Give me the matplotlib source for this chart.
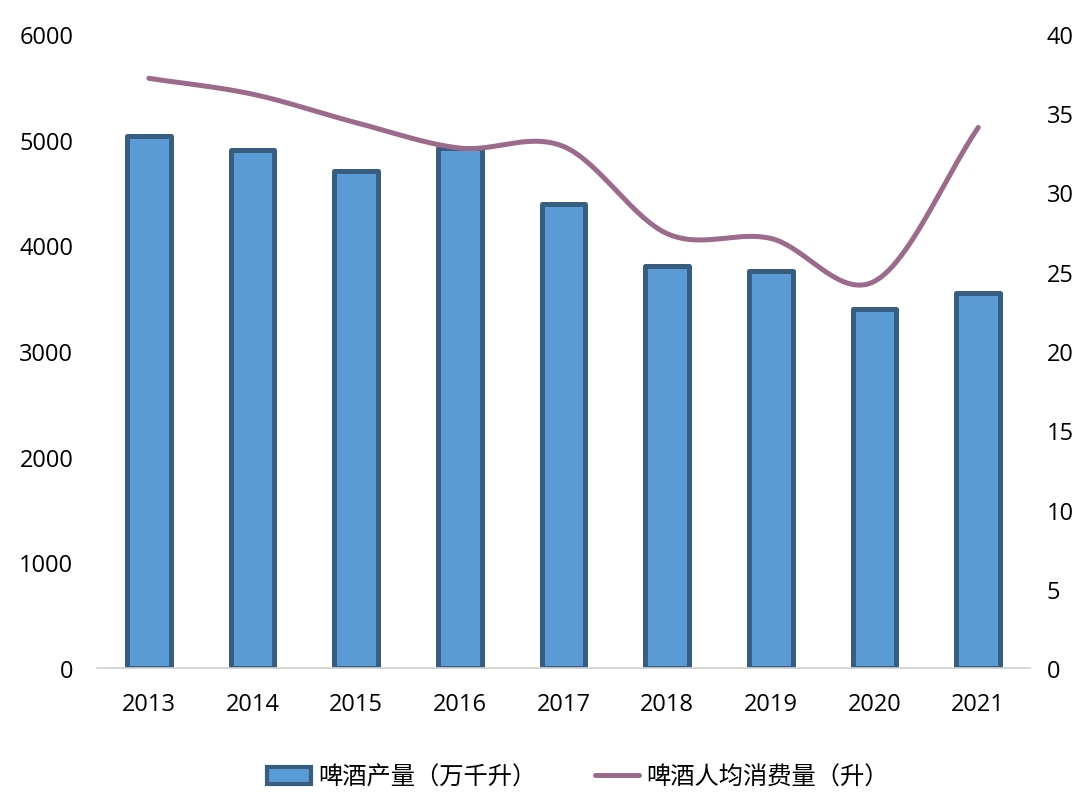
import numpy as np
import matplotlib
matplotlib.use("Agg")
import matplotlib.pyplot as plt
from matplotlib.patches import Patch
from matplotlib.lines import Line2D

plt.rcParams['font.family'] = ['Open Sans', 'Noto Sans CJK SC', 'DejaVu Sans']

years = ['2013', '2014', '2015', '2016', '2017', '2018', '2019', '2020', '2021']
production = [5035, 4900, 4705, 4925, 4390, 3805, 3760, 3400, 3550]
per_capita = [37.2, 36.2, 34.4, 32.8, 32.9, 27.4, 27.1, 24.4, 34.1]

bar_label = '啤酒产量（万千升）'
line_label = '啤酒人均消费量（升）'

fill_color = '#5B9BD5'
edge_color = '#375D81'
line_color = '#9C6A8B'


def catmull_rom(x, y, n=40):
    x = np.asarray(x, float)
    y = np.asarray(y, float)
    px = np.concatenate([[2 * x[0] - x[1]], x, [2 * x[-1] - x[-2]]])
    py = np.concatenate([[2 * y[0] - y[1]], y, [2 * y[-1] - y[-2]]])
    xs, ys = [], []
    t = np.linspace(0, 1, n)
    for i in range(1, len(px) - 2):
        p0x, p1x, p2x, p3x = px[i - 1:i + 3]
        p0y, p1y, p2y, p3y = py[i - 1:i + 3]
        c1x, c1y = p1x + (p2x - p0x) / 6, p1y + (p2y - p0y) / 6
        c2x, c2y = p2x - (p3x - p1x) / 6, p2y - (p3y - p1y) / 6
        bx = (1 - t) ** 3 * p1x + 3 * (1 - t) ** 2 * t * c1x + 3 * (1 - t) * t ** 2 * c2x + t ** 3 * p2x
        by = (1 - t) ** 3 * p1y + 3 * (1 - t) ** 2 * t * c1y + 3 * (1 - t) * t ** 2 * c2y + t ** 3 * p2y
        xs.append(bx)
        ys.append(by)
    return np.concatenate(xs), np.concatenate(ys)


fig = plt.figure(figsize=(10.8, 8.12), dpi=100)
ax = fig.add_axes([0.0898, 0.176, 0.864, 0.781])
x = np.arange(len(years))
ax.bar(x, production, width=0.42, color=fill_color, edgecolor=edge_color, linewidth=3.6,
       joinstyle='round', zorder=2)
ax.set_xlim(-0.5, len(years) - 0.5)
ax.set_ylim(0, 6000)
ax.set_yticks(range(0, 6001, 1000))
ax.set_xticks(x)
ax.set_xticklabels(years)
ax.tick_params(axis='both', length=0, labelsize=17, colors='black')
ax.tick_params(axis='x', pad=17)
ax.tick_params(axis='y', pad=17)
for s in ['top', 'right', 'left']:
    ax.spines[s].set_visible(False)
ax.spines['bottom'].set_color('#D0D0D0')
ax.spines['bottom'].set_linewidth(1.2)

ax2 = ax.twinx()
sx, sy = catmull_rom(x, per_capita)
ax2.plot(sx, sy, color=line_color, linewidth=3.6, solid_capstyle='round', zorder=3)
ax2.set_ylim(0, 40)
ax2.set_yticks(range(0, 41, 5))
ax2.tick_params(axis='y', length=0, labelsize=17, colors='black', pad=12)
for s in ['top', 'right', 'left', 'bottom']:
    ax2.spines[s].set_visible(False)

handles = [Patch(facecolor=fill_color, edgecolor=edge_color, linewidth=3, joinstyle='round'),
           Line2D([0], [0], color=line_color, linewidth=3.6, solid_capstyle='round')]
fig.legend(handles, [bar_label, line_label], loc='center', bbox_to_anchor=(0.535, 0.042),
           ncol=2, frameon=False, handlelength=1.8, handleheight=0.75,
           handletextpad=0.3, columnspacing=2.4,
           prop={'family': ['Noto Sans CJK SC', 'DejaVu Sans'], 'size': 17.5})

fig.savefig('out.png', dpi=100)
